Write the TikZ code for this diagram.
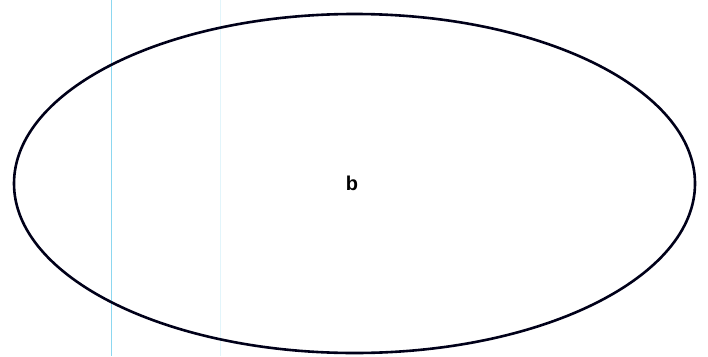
\documentclass[tikz,border=0pt]{standalone}
\usepackage{fontspec}
\setmainfont{Liberation Sans}
\usetikzlibrary{shapes.geometric}
\definecolor{guideblue}{RGB}{140,215,240}

\begin{document}
\begin{tikzpicture}[x=1pt, y=-1pt]
\def\rx{340.5}
\def\ry{169.5}

\useasboundingbox (0,0) rectangle (708,356);
\fill[white] (0,0) rectangle (708,356);

% faint guide lines
\draw[guideblue, line width=0.7pt] (111,0) -- (111,356);
\draw[guideblue!25, line width=0.7pt] (220,0) -- (220,356);

\coordinate (C) at (354.5,183.5);
\draw[line width=2.6pt, black!90!blue] (C) ellipse [x radius=\rx, y radius=\ry];

\node[font=\fontsize{20}{20}\selectfont\bfseries] (b) at (352,183) {b};

\end{tikzpicture}
\end{document}
